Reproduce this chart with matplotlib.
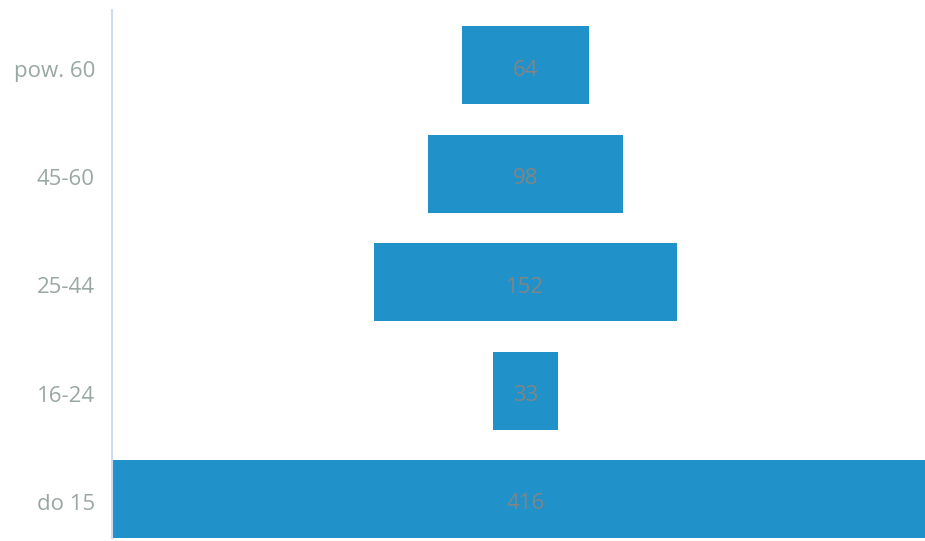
import matplotlib.pyplot as plt

plt.rcParams['font.family'] = ['Open Sans', 'DejaVu Sans']

categories = ["do 15", "16-24", "25-44", "45-60", "pow. 60"]
values = [416, 33, 152, 98, 64]

fig = plt.figure(figsize=(9.25, 5.41), dpi=100)
ax = fig.add_axes([0.1211, 0.0055, 0.8789, 0.976])

pos = range(len(categories))
ax.barh(pos, values, left=[-v / 2 for v in values], height=0.72,
        color='#2191c9', zorder=2)
for p, v in zip(pos, values):
    ax.text(0, p - 0.045, str(v), ha='center', va='center', fontsize=16,
            color='#808585', zorder=3)

# category labels drawn as text so they sit a little below the bar centre
for p, c in zip(pos, categories):
    ax.text(-0.021, p - 0.03, c, ha='right', va='center_baseline',
            fontsize=16, color='#9aa8a2', transform=ax.get_yaxis_transform())

ax.set_xlim(-208, 201)
ax.set_ylim(-0.36, 4.51)
ax.set_yticks([])
ax.set_xticks([])
for s in ['top', 'right', 'bottom']:
    ax.spines[s].set_visible(False)
ax.spines['left'].set_color('#cfdcf0')
ax.spines['left'].set_linewidth(1.5)

plt.savefig("out.png")
plt.close()
